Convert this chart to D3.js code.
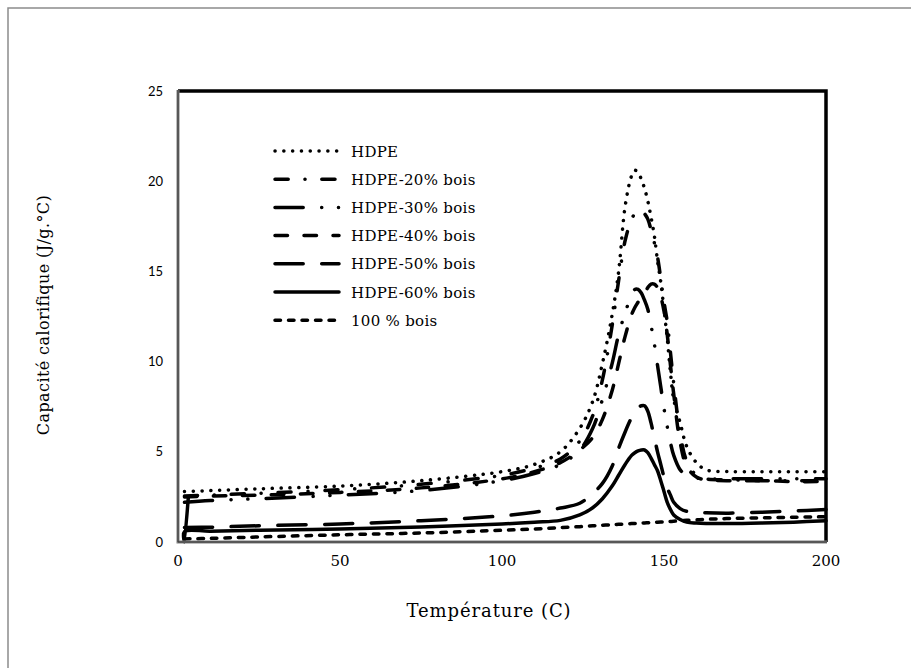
<!DOCTYPE html>
<html>
<head>
<meta charset="utf-8">
<script src="https://cdn.jsdelivr.net/npm/d3@7"></script>
<style>
  html, body { margin: 0; padding: 0; background: #fff; overflow: hidden; }
  svg { display: block; }
</style>
</head>
<body>
<div id="chart"></div>
<script>
// Temperatures (C) shared by the series
var temps = [2, 10, 25, 50, 75, 100, 110, 118, 124, 128, 131, 134, 136, 138, 140, 141, 142, 143, 144, 145,
             146, 147, 148, 149, 150, 151, 152, 153, 155, 157, 160, 163, 170, 180, 190, 200];

var hdpe = [2.8, 2.85, 2.95, 3.1, 3.4, 3.9, 4.3, 5.0, 6.3, 7.8, 9.9, 12.6, 15.0, 18.6, 20.3, 20.6, 20.5, 20.1, 19.6, 18.9,
            18.0, 17.0, 15.6, 14.4, 12.9, 11.3, 9.4, 7.9, 6.6, 5.3, 4.4, 4.0, 3.9, 3.9, 3.9, 3.9];
var hdpe20 = [2.55, 2.6, 2.7, 2.9, 3.2, 3.7, 4.1, 4.6, 5.6, 7.0, 9.0, 12.0, 14.5, 16.7, 17.9, 18.2, 18.4, 18.4, 18.2, 17.9,
              17.3, 16.6, 15.8, 14.6, 13.3, 12.2, 10.5, 8.8, 6.0, 4.5, 3.7, 3.5, 3.45, 3.4, 3.4, 3.4];
var hdpe30 = [2.2, 2.3, 2.4, 2.6, 2.85, 3.4, 3.8, 4.3, 5.1, 6.3, 7.9, 9.9, 11.5, 12.7, 13.7, 14.0, 14.0, 13.8, 13.4, 12.9,
              12.0, 11.0, 9.8, 8.6, 7.4, 6.4, 5.5, 4.8, 4.0, 3.7, 3.55, 3.5, 3.5, 3.5, 3.5, 3.5];
var hdpe40 = [2.5, 2.55, 2.6, 2.75, 3.0, 3.5, 3.9, 4.4, 5.1, 5.8, 6.8, 8.4, 9.9, 11.4, 12.6, 13.0, 13.3, 13.6, 13.8, 14.1,
              14.3, 14.3, 14.1, 13.6, 12.8, 11.5, 9.8, 8.2, 5.5, 4.2, 3.6, 3.45, 3.4, 3.4, 3.35, 3.35];
var hdpe50 = [0.8, 0.82, 0.9, 1.0, 1.18, 1.45, 1.65, 1.88, 2.15, 2.7, 3.25, 4.2, 5.2, 6.1, 6.9, 7.2, 7.45, 7.55, 7.55, 7.25,
              6.6, 5.8, 5.0, 4.3, 3.6, 3.0, 2.6, 2.2, 1.85, 1.7, 1.65, 1.62, 1.6, 1.65, 1.72, 1.8];
var hdpe60 = [0.57, 0.6, 0.65, 0.72, 0.83, 1.0, 1.1, 1.2, 1.5, 1.9, 2.4, 3.1, 3.7, 4.3, 4.8, 4.95, 5.05, 5.1, 5.1, 4.95,
              4.65, 4.3, 3.95, 3.4, 2.8, 2.2, 1.8, 1.5, 1.25, 1.1, 1.05, 1.03, 1.02, 1.05, 1.1, 1.18];
// HDPE-60% starts with a drop before its baseline
var start60T = [3.2, 2];
var start60 = [2.5, 0];
var bois100 = [0.17, 0.2, 0.28, 0.4, 0.5, 0.65, 0.72, 0.8, 0.85, 0.9, 0.93, 0.96, 0.98, 1.0, 1.02, 1.03, 1.04, 1.05, 1.06, 1.07,
               1.08, 1.09, 1.1, 1.11, 1.12, 1.13, 1.14, 1.15, 1.18, 1.2, 1.23, 1.26, 1.3, 1.34, 1.37, 1.4];

var seriesNames = ["HDPE", "HDPE-20% bois", "HDPE-30% bois", "HDPE-40% bois", "HDPE-50% bois", "HDPE-60% bois", "100 % bois"];
var xTicks = [0, 50, 100, 150, 200];
var yTicks = [0, 5, 10, 15, 20, 25];

function init(){

    var w = 911;
    var h = 668;
    var left = 178, right = 826, top = 91, bottom = 542;

    var x = d3.scaleLinear().domain([0, 200]).range([left, right]);
    var y = d3.scaleLinear().domain([0, 25]).range([bottom, top]);

    var svg = d3.select("#chart")
                .append("svg")
                .attr("width", w)
                .attr("height", h);

    svg.append("rect").attr("width", w).attr("height", h).attr("fill", "#fff");

    // outer chart border (only left and top fall inside the window)
    svg.append("path")
        .attr("d", "M8," + h + "V8H" + w)
        .attr("fill", "none")
        .attr("stroke", "#8c8c8c")
        .attr("stroke-width", 1.5);

    var sw = 3.5;
    var styles = [
        {dash: "0.1 8.7"},
        {dash: "13.2 16.75 0.1 16.75"},
        {dash: "28.2 18.45 0.1 16.7 0.1 18.45"},
        {dash: "12.5 16.5"},
        {dash: "28.2 18.5"},
        {dash: null},
        {dash: "5.5 8"}
    ];

    var values = [hdpe, hdpe20, hdpe30, hdpe40, hdpe50, hdpe60, bois100];
    var series = values.map(function(v, i){
        var pts = temps.map(function(t, j){ return [t, v[j]]; });
        if (i == 5) {
            pts = start60T.map(function(t, j){ return [t, start60[j]]; }).concat(pts);
        }
        return {name: seriesNames[i], pts: pts, style: styles[i]};
    });

    var line = d3.line()
                .x(function(d){ return x(d[0]); })
                .y(function(d){ return y(d[1]); })
                .curve(d3.curveCatmullRom.alpha(0.5));

    svg.selectAll("path.series")
        .data(series)
        .enter()
        .append("path")
        .attr("class", "series")
        .attr("d", function(d){ return line(d.pts); })
        .attr("fill", "none")
        .attr("stroke", "#000")
        .attr("stroke-width", sw)
        .attr("stroke-linecap", "round")
        .attr("stroke-linejoin", "round")
        .attr("stroke-dasharray", function(d){ return d.style.dash; });

    // plot frame: black top/right, gray axes left/bottom
    svg.append("path")
        .attr("d", "M" + left + "," + top + "H" + right + "V" + bottom)
        .attr("fill", "none")
        .attr("stroke", "#000")
        .attr("stroke-width", 3.5);

    svg.append("path")
        .attr("d", "M" + left + "," + (top - 1) + "V" + bottom + "H" + (right + 1))
        .attr("fill", "none")
        .attr("stroke", "#7f7f7f")
        .attr("stroke-width", 3);
    svg.append("path")
        .attr("d", "M" + left + "," + (top - 1) + "V" + bottom + "H" + (right + 1))
        .attr("fill", "none")
        .attr("stroke", "#333")
        .attr("stroke-width", 1);

    // y tick labels
    svg.selectAll("text.ytick")
        .data(yTicks)
        .enter()
        .append("text")
        .attr("x", left - 15)
        .attr("y", function(d){ return y(d) + 4.5; })
        .attr("text-anchor", "end")
        .style("font-family", "Lato, 'Open Sans', sans-serif")
        .style("font-size", "13px")
        .attr("fill", "#000")
        .text(function(d){ return d; });

    // x tick labels
    svg.selectAll("text.xtick")
        .data(xTicks)
        .enter()
        .append("text")
        .attr("x", function(d){ return x(d); })
        .attr("y", 566)
        .attr("text-anchor", "middle")
        .style("font-family", "'DejaVu Serif', serif")
        .style("font-size", "15px")
        .attr("fill", "#000")
        .text(function(d){ return d; });

    svg.append("text")
        .attr("x", 489)
        .attr("y", 617)
        .attr("text-anchor", "middle")
        .style("font-family", "'DejaVu Serif', serif")
        .style("font-size", "18px")
        .style("letter-spacing", "0.9px")
        .text("Température (C)");

    svg.append("text")
        .attr("transform", "translate(49,315) rotate(-90)")
        .attr("text-anchor", "middle")
        .style("font-family", "'DejaVu Serif', serif")
        .style("font-size", "16px")
        .style("letter-spacing", "0.4px")
        .text("Capacité calorifique (J/g.°C)");

    // legend
    var legend = svg.selectAll("g.legend")
        .data(series)
        .enter()
        .append("g")
        .attr("class", "legend")
        .attr("transform", function(d, i){ return "translate(0," + (151 + i * 28.2) + ")"; });

    legend.append("line")
        .attr("x1", 275).attr("x2", 339)
        .attr("y1", 0).attr("y2", 0)
        .attr("stroke", "#000")
        .attr("stroke-width", sw)
        .attr("stroke-linecap", "round")
        .attr("stroke-dasharray", function(d){ return d.style.dash; });

    legend.append("text")
        .attr("x", 351)
        .attr("y", 5.5)
        .style("font-family", "'DejaVu Serif', serif")
        .style("font-size", "15px")
        .style("letter-spacing", "0.3px")
        .text(function(d){ return d.name; });
}

window.onload = init;
</script>
</body>
</html>
